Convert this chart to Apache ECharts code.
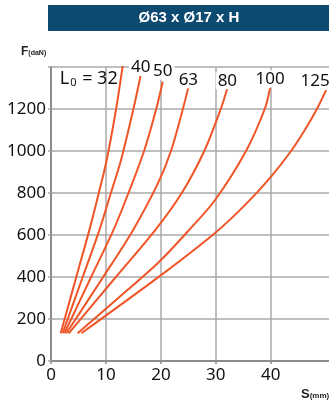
<!DOCTYPE html>
<html>
<head>
<meta charset="utf-8">
<script src="https://cdn.jsdelivr.net/npm/echarts@6/dist/echarts.min.js"></script>
<style>
html, body { margin: 0; padding: 0; background: #fff; }
#chart { width: 329px; height: 401px; }
</style>
</head>
<body>
<div id="chart"></div>
<script>
// free length L0 (mm) of each spring
const springLengths = [32, 40, 50, 63, 80, 100, 125];

// force F (daN) and deflection S (mm)
const force32 = [132, 400, 622, 800, 957, 1200, 1405];
const defl32 = [1.77, 4.6, 6.97, 8.7, 10.14, 11.85, 13.05];
const force40 = [132, 400, 622, 800, 957, 1200, 1362];
const defl40 = [2.12, 5.77, 8.79, 10.9, 12.75, 15.0, 16.33];
const force50 = [132, 400, 622, 800, 1005, 1200, 1330];
const defl50 = [2.45, 7.3, 11.34, 14.1, 17.0, 19.15, 20.34];
const force63 = [132, 400, 622, 848, 1005, 1200, 1303];
const defl63 = [2.8, 9.5, 14.9, 19.5, 21.9, 24.0, 25.0];
const force80 = [132, 400, 622, 800, 1000, 1200, 1299];
const defl80 = [3.22, 11.81, 18.93, 23.8, 27.9, 30.9, 32.1];
const force100 = [132, 300, 473, 620, 768, 1000, 1200, 1299];
const defl100 = [4.85, 12.25, 19.7, 25.0, 29.9, 35.5, 38.9, 39.87];
const force125 = [132, 403, 610, 740, 876, 1000, 1100, 1200, 1290];
const defl125 = [5.52, 19.72, 29.86, 35.2, 39.99, 43.7, 46.2, 48.4, 50.07];

// axis ticks
const sTicks = [0, 10, 20, 30, 40];
const fTicks = [0, 200, 400, 600, 800, 1000, 1200];

const titleText = 'Ø63 x Ø17 x H';

const curveData = {
    32: [defl32, force32], 40: [defl40, force40], 50: [defl50, force50],
    63: [defl63, force63], 80: [defl80, force80], 100: [defl100, force100],
    125: [defl125, force125]
};

// where each end label sits relative to the curve end
const labelPlace = {
    32: { position: 'left', offset: [-3, 13] },
    40: { position: 'top', offset: [0, 1] },
    50: { position: 'top', offset: [0, -2] },
    63: { position: 'top', offset: [0, 1] },
    80: { position: 'top', offset: [0, 1] },
    100: { position: 'top', offset: [0, -1] },
    125: { position: 'top', offset: [-11, 0] }
};

const RED = '#ef5527';
const GRID = '#aaaaaa';
const AXIS = '#8c8c8c';
const FONT = '"Noto Sans", sans-serif';

const myChart = echarts.init(document.getElementById('chart'));

function buildSeries(L) {
    const [s, f] = curveData[L];
    const place = labelPlace[L];
    const last = s.length - 1;
    const text = L === 32 ? '{a|L}{b|0}{a| = 32}' : String(L);
    return {
        type: 'line',
        name: 'L0 = ' + L,
        smooth: 0.3,
        symbol: 'none',
        clip: false,
        lineStyle: { color: RED, width: 2 },
        data: s.map((x, i) => i < last ? [x, f[i]] : {
            value: [x, f[i]],
            symbol: 'circle',
            symbolSize: 0,
            label: {
                show: true,
                position: place.position,
                distance: 0,
                offset: place.offset,
                formatter: text,
                color: '#111',
                fontFamily: FONT,
                fontSize: 17,
                backgroundColor: L === 32 ? 'transparent' : '#fff',
                padding: [0, 2],
                rich: {
                    a: { fontFamily: FONT, fontSize: 18, color: '#111' },
                    b: { fontFamily: FONT, fontSize: 11, color: '#111', padding: [8, 1, 0, 1] }
                }
            }
        })
    };
}

const option = {
    backgroundColor: '#fff',
    animation: false,
    grid: { left: 51, right: 0, top: 67, bottom: 40, outerBoundsMode: 'none' },
    xAxis: {
        type: 'value',
        min: 0,
        max: 50.6,
        interval: 10,
        axisLine: { show: true, lineStyle: { color: AXIS, width: 2 } },
        axisTick: { show: true, length: 3, customValues: sTicks, lineStyle: { color: AXIS, width: 1.5 } },
        axisLabel: {
            customValues: sTicks,
            margin: 6,
            color: '#111',
            fontFamily: FONT,
            fontSize: 17
        },
        splitLine: { show: true, lineStyle: { color: GRID, width: 1.5 } }
    },
    yAxis: {
        type: 'value',
        min: 0,
        max: 1400,
        interval: 200,
        axisLine: { show: true, lineStyle: { color: AXIS, width: 2 } },
        axisTick: { show: true, length: 3, lineStyle: { color: GRID, width: 1.5 } },
        axisLabel: {
            margin: 5,
            color: '#111',
            fontFamily: FONT,
            fontSize: 17,
            verticalAlign: 'middle',
            padding: [0, 0, 19, 0],
            formatter: v => (fTicks.includes(v) ? String(v) : '')
        },
        splitLine: { show: true, lineStyle: { color: GRID, width: 1.5 } }
    },
    graphic: [
        {
            type: 'rect',
            shape: { x: 48, y: 5, width: 281, height: 26 },
            style: { fill: '#0c4a6f' }
        },
        {
            type: 'text',
            x: 189,
            y: 18,
            style: {
                text: titleText,
                fill: '#fff',
                font: 'bold 15px "Liberation Sans", Arial, sans-serif',
                align: 'center',
                verticalAlign: 'middle',
                textAlign: 'center',
                textVerticalAlign: 'middle'
            }
        },
        {
            type: 'text',
            x: 21,
            y: 52,
            style: {
                text: '{a|F}{b|(daN)}',
                fill: '#222',
                verticalAlign: 'middle',
                textVerticalAlign: 'middle',
                rich: {
                    a: { font: 'bold 12px "Liberation Sans Narrow", "Liberation Sans", sans-serif', fill: '#222' },
                    b: { font: 'bold 7px "Liberation Sans Narrow", "Liberation Sans", sans-serif', fill: '#222', padding: [3, 0, 0, 0] }
                }
            }
        },
        {
            type: 'text',
            x: 301,
            y: 394,
            style: {
                text: '{a|S}{b|(mm)}',
                fill: '#222',
                verticalAlign: 'middle',
                textVerticalAlign: 'middle',
                rich: {
                    a: { font: 'bold 13px "Liberation Sans Narrow", "Liberation Sans", sans-serif', fill: '#222' },
                    b: { font: 'bold 8px "Liberation Sans Narrow", "Liberation Sans", sans-serif', fill: '#222', padding: [3, 0, 0, 0] }
                }
            }
        }
    ],
    series: springLengths.map(buildSeries)
};

myChart.setOption(option);
</script>
</body>
</html>
